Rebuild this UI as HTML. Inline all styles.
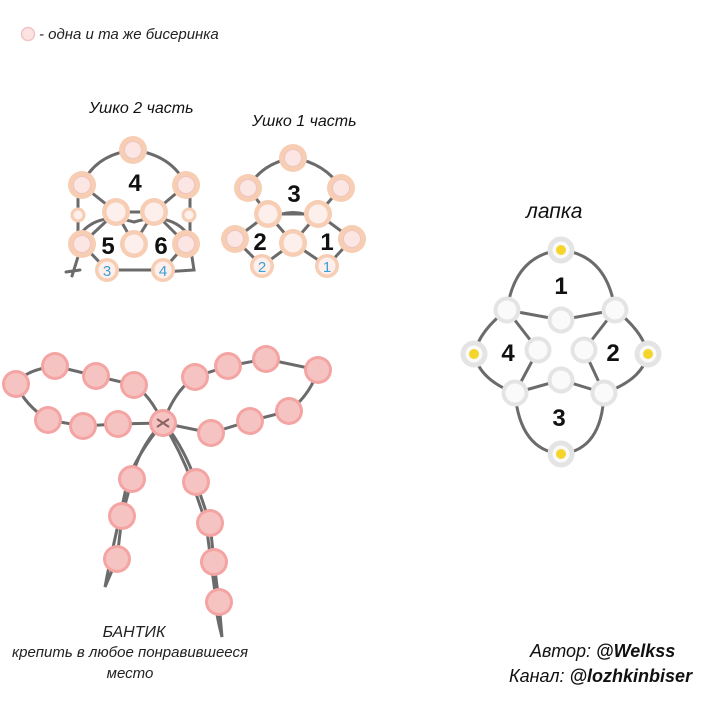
<!DOCTYPE html>
<html><head><meta charset="utf-8"><style>
html,body{margin:0;padding:0;background:#fff}
svg{display:block}
text{font-family:"Liberation Sans",sans-serif}
.it{font-style:italic}
</style></head><body>
<svg width="711" height="712" viewBox="0 0 711 712" xmlns="http://www.w3.org/2000/svg">
<defs>
<g id="pb"><circle r="14" fill="#f7cdb3"/><circle r="8.5" fill="#fbe6e3" stroke="#f0c4c0" stroke-width="1"/></g>
<g id="pw"><circle r="14" fill="#f7cdb3"/><circle r="9.5" fill="#fdf0ec"/></g>
<g id="lb"><circle r="13.5" fill="#e4e4e4"/><circle r="9.5" fill="#fafafa"/></g>
<g id="ly"><circle r="13.5" fill="#e4e4e4"/><circle r="8.5" fill="#fafafa"/><circle r="5" fill="#f5d52a"/></g>
<g id="bb"><circle r="14" fill="#f4a4a2"/><circle r="11" fill="#f5c3c1"/></g>
</defs>

<!-- legend -->
<circle cx="28" cy="34" r="6.5" fill="#fbe3e3" stroke="#f2c4c4" stroke-width="1.5"/>
<text x="39" y="39" font-size="15" class="it" fill="#222">- одна и та же бисеринка</text>

<!-- Ushko 2 -->
<text x="89" y="113" font-size="16" class="it" fill="#111">Ушко 2 часть</text>
<g fill="none" stroke="#6b6b6b" stroke-width="3" stroke-linecap="round">
<path d="M82,185 Q95,155 133,150 Q172,155 186,185"/>
<path d="M82,185 L116,212 L154,212 L186,185"/>
<path d="M82,244 L116,212 M134,244 L116,212 M134,244 L154,212 M186,244 L154,212"/>
<path d="M78,190 L78,244 M190,190 L190,244"/>
<path d="M82,244 L107,270 L163,270 L186,244"/>
<path d="M82,232 Q100,212 134,222 Q168,212 186,232"/>
<path d="M190,244 L194,270 L163,272 M82,244 L72,276 M66,272 L80,270"/>
</g>
<use href="#pb" x="133" y="150"/><use href="#pb" x="82" y="185"/><use href="#pb" x="186" y="185"/>
<use href="#pw" x="116" y="212"/><use href="#pw" x="154" y="212"/>
<circle cx="78" cy="215" r="7.5" fill="#f7cdb3"/><circle cx="78" cy="215" r="4.5" fill="#fdf0ec"/>
<circle cx="189" cy="215" r="7.5" fill="#f7cdb3"/><circle cx="189" cy="215" r="4.5" fill="#fdf0ec"/>
<use href="#pb" x="82" y="244"/><use href="#pw" x="134" y="244"/><use href="#pb" x="186" y="244"/>
<circle cx="107" cy="270" r="12" fill="#f7cdb3"/><circle cx="107" cy="270" r="8.5" fill="#fdf0ec"/>
<circle cx="163" cy="270" r="12" fill="#f7cdb3"/><circle cx="163" cy="270" r="8.5" fill="#fdf0ec"/>
<text x="107" y="276" font-size="15" text-anchor="middle" fill="#3aa0d8">3</text>
<text x="163" y="276" font-size="15" text-anchor="middle" fill="#3aa0d8">4</text>
<text x="135" y="191" font-size="24" font-weight="bold" text-anchor="middle" fill="#111">4</text>
<text x="108" y="254" font-size="24" font-weight="bold" text-anchor="middle" fill="#111">5</text>
<text x="161" y="254" font-size="24" font-weight="bold" text-anchor="middle" fill="#111">6</text>

<!-- Ushko 1 -->
<text x="252" y="126" font-size="16" class="it" fill="#111">Ушко 1 часть</text>
<g fill="none" stroke="#6b6b6b" stroke-width="3" stroke-linecap="round">
<path d="M248,188 Q262,163 293,158 Q325,163 341,188"/>
<path d="M248,188 L268,214 L318,214 L341,188"/>
<path d="M235,239 L268,214 M293,243 L268,214 M293,243 L318,214 M352,239 L318,214"/>
<path d="M268,220 Q293,205 318,220"/>
<path d="M235,239 L262,266 L293,243 L327,266 L352,239"/>
</g>
<use href="#pb" x="293" y="158"/><use href="#pb" x="248" y="188"/><use href="#pb" x="341" y="188"/>
<use href="#pw" x="268" y="214"/><use href="#pw" x="318" y="214"/>
<use href="#pb" x="235" y="239"/><use href="#pw" x="293" y="243"/><use href="#pb" x="352" y="239"/>
<circle cx="262" cy="266" r="12" fill="#f7cdb3"/><circle cx="262" cy="266" r="8.5" fill="#fdf0ec"/>
<circle cx="327" cy="266" r="12" fill="#f7cdb3"/><circle cx="327" cy="266" r="8.5" fill="#fdf0ec"/>
<text x="262" y="272" font-size="15" text-anchor="middle" fill="#3aa0d8">2</text>
<text x="327" y="272" font-size="15" text-anchor="middle" fill="#3aa0d8">1</text>
<text x="294" y="202" font-size="24" font-weight="bold" text-anchor="middle" fill="#111">3</text>
<text x="260" y="250" font-size="24" font-weight="bold" text-anchor="middle" fill="#111">2</text>
<text x="327" y="250" font-size="24" font-weight="bold" text-anchor="middle" fill="#111">1</text>

<!-- Lapka -->
<text x="526" y="218" font-size="21" class="it" fill="#111">лапка</text>
<g fill="none" stroke="#6b6b6b" stroke-width="3" stroke-linecap="round">
<path d="M507,310 Q515,255 561,250 Q607,255 615,310"/>
<path d="M507,310 Q480,330 474,354 Q480,380 515,393"/>
<path d="M615,310 Q642,330 648,354 Q642,380 604,393"/>
<path d="M515,393 Q520,450 561,454 Q602,450 604,393"/>
<path d="M507,310 L538,350 M507,310 L561,320 L615,310 L584,350"/>
<path d="M515,393 L538,350 M515,393 L561,380 L604,393 L584,350"/>
</g>
<use href="#ly" x="561" y="250"/>
<use href="#lb" x="507" y="310"/><use href="#lb" x="615" y="310"/>
<use href="#lb" x="561" y="320"/>
<use href="#lb" x="538" y="350"/><use href="#lb" x="584" y="350"/>
<use href="#ly" x="474" y="354"/><use href="#ly" x="648" y="354"/>
<use href="#lb" x="561" y="380"/>
<use href="#lb" x="515" y="393"/><use href="#lb" x="604" y="393"/>
<use href="#ly" x="561" y="454"/>
<text x="561" y="294" font-size="24" font-weight="bold" text-anchor="middle" fill="#111">1</text>
<text x="508" y="361" font-size="24" font-weight="bold" text-anchor="middle" fill="#111">4</text>
<text x="613" y="361" font-size="24" font-weight="bold" text-anchor="middle" fill="#111">2</text>
<text x="559" y="426" font-size="24" font-weight="bold" text-anchor="middle" fill="#111">3</text>

<!-- Bow -->
<g fill="none" stroke="#6b6b6b" stroke-width="3" stroke-linecap="round">
<path d="M163,423 Q150,395 134,385 L96,376 L55,366 Q25,370 16,384 Q25,405 48,420 L83,426 L118,424 L163,423"/>
<path d="M163,423 Q175,390 195,377 L228,366 L266,359 L318,370 Q310,395 289,411 L250,421 L211,433 L163,423"/>
<path d="M160,425 Q138,450 132,479 L122,516 L117,559 L105,587 Q110,560 120,516 L128,479 Q140,450 163,423"/>
<path d="M166,425 Q185,450 196,482 L210,523 L214,562 L219,602 L222,637 Q215,610 216,600 L211,562 L206,523 L192,482 Q180,450 163,423"/>
</g>
<use href="#bb" x="16" y="384"/><use href="#bb" x="55" y="366"/><use href="#bb" x="96" y="376"/><use href="#bb" x="134" y="385"/>
<use href="#bb" x="48" y="420"/><use href="#bb" x="83" y="426"/><use href="#bb" x="118" y="424"/>
<use href="#bb" x="195" y="377"/><use href="#bb" x="228" y="366"/><use href="#bb" x="266" y="359"/><use href="#bb" x="318" y="370"/>
<use href="#bb" x="211" y="433"/><use href="#bb" x="250" y="421"/><use href="#bb" x="289" y="411"/>
<use href="#bb" x="132" y="479"/><use href="#bb" x="122" y="516"/><use href="#bb" x="117" y="559"/>
<use href="#bb" x="196" y="482"/><use href="#bb" x="210" y="523"/><use href="#bb" x="214" y="562"/><use href="#bb" x="219" y="602"/>
<use href="#bb" x="163" y="423"/>
<g stroke="#8a6464" stroke-width="2"><path d="M157,419 L169,427 M157,427 L169,419"/></g>

<text x="134" y="637" font-size="16" class="it" text-anchor="middle" fill="#222">БАНТИК</text>
<text x="130" y="657" font-size="15" class="it" text-anchor="middle" fill="#222">крепить в любое понравившееся</text>
<text x="130" y="678" font-size="15" class="it" text-anchor="middle" fill="#222">место</text>

<text x="530" y="657" font-size="18" class="it" fill="#111">Автор: <tspan font-weight="bold">@Welkss</tspan></text>
<text x="509" y="682" font-size="18" class="it" fill="#111">Канал: <tspan font-weight="bold">@lozhkinbiser</tspan></text>
</svg>
</body></html>
